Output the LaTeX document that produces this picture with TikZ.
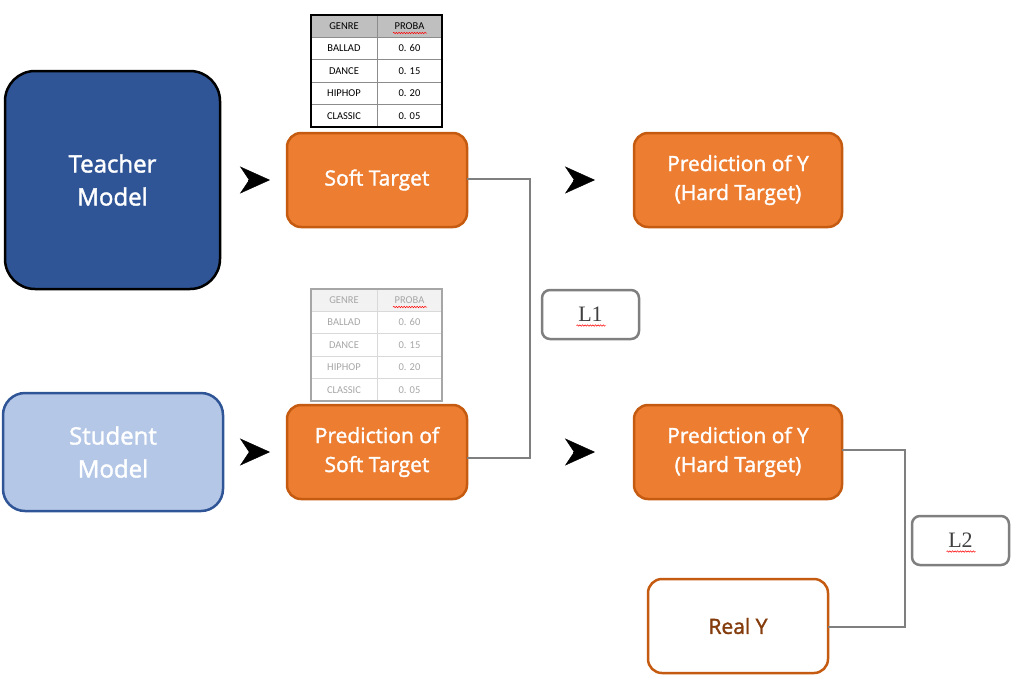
\documentclass[tikz,border=0pt]{standalone}
\usepackage{fontspec}
\setmainfont{Open Sans}
\newfontfamily\boxfont[FakeBold=1.6]{Open Sans}
\newfontfamily\serifL{Liberation Serif}
\newfontfamily\tabfont{Carlito}
\usetikzlibrary{arrows.meta,decorations.pathmorphing,calc}
\definecolor{tblue}{HTML}{2F5597}
\definecolor{lblue}{HTML}{B4C7E7}
\definecolor{orfill}{HTML}{ED7D31}
\definecolor{ordraw}{HTML}{C55A11}
\definecolor{brown}{HTML}{843C0C}
\definecolor{lgray}{HTML}{7F7F7F}
\definecolor{hdrdark}{HTML}{BFBFBF}
\definecolor{hdrlight}{HTML}{F2F2F2}
\definecolor{txtgray}{HTML}{A6A6A6}
\definecolor{gridlight}{HTML}{D9D9D9}
\tikzset{
  bigbox/.style={rounded corners=30pt, line width=2.5pt, outer sep=0pt, align=center,
    text=white, font=\boxfont\fontsize{24}{33}\selectfont},
  orbox/.style={rounded corners=14pt, line width=2.5pt, outer sep=0pt, align=center,
    fill=orfill, draw=ordraw, text=white, minimum width=180pt, minimum height=94pt,
    font=\boxfont\fontsize{21}{29}\selectfont},
  lossbox/.style={rounded corners=8pt, line width=2.5pt, draw=lgray, fill=white, outer sep=0pt,
    minimum width=97pt, minimum height=49pt, text=black!75, font=\serifL\fontsize{22}{26}\selectfont},
  tip/.style={line width=0.4pt, draw=black, fill=black, -{Stealth[length=30pt,width=27pt,inset=9pt]}},
  conn/.style={line width=2.8pt, draw=lgray},
  squiggle/.style={draw=red, line width=0.5pt, decorate,
    decoration={snake, amplitude=0.7pt, segment length=2.6pt}},
  pics/genretab/.style n args={4}{code={
    \fill[#2] (0,0) rectangle (131,22);
    \foreach \yy in {22,44.5,67,89.5} \draw[#3, line width=0.7pt] (0,\yy) -- (131,\yy);
    \draw[#3, line width=0.7pt] (66,0) -- (66,112);
    \draw[#1, line width=1.3pt] (0,0) rectangle (131,112);
    \begin{scope}[every node/.style={text=#4, font=\tabfont\fontsize{10.5}{12}\selectfont}]
      \node (-g) at (33,11) {GENRE};
      \node (-p) at (98.5,11) {PROBA};
      \node (-b) at (33,33.25) {BALLAD};
      \node (-bv) at (98.5,33.25) {0. 60};
      \node (-d) at (33,55.75) {DANCE};
      \node (-dv) at (98.5,55.75) {0. 15};
      \node (-h) at (33,78.25) {HIPHOP};
      \node (-hv) at (98.5,78.25) {0. 20};
      \node (-c) at (33,100.75) {CLASSIC};
      \node (-cv) at (98.5,100.75) {0. 05};
    \end{scope}
    \draw[squiggle] (82,18) -- (116,18);
  }}
}
\begin{document}
\begin{tikzpicture}[x=1pt,y=-1pt]
\useasboundingbox (0,0) rectangle (1015,681);

\node[bigbox, fill=tblue, draw=black, minimum width=215pt, minimum height=218pt] (teacher) at (112.5,180) {Teacher\\Model};
\node[bigbox, rounded corners=22pt, fill=lblue, draw=tblue, minimum width=220pt, minimum height=118pt] (student) at (113,452) {Student\\Model};

\node[orbox] (soft) at (377,180) {Soft Target};
\node[orbox] (psoft) at (377,452) {Prediction of\\Soft Target};
\node[orbox, minimum width=208pt] (hardA) at (738,180) {Prediction of Y\\(Hard Target)};
\node[orbox, minimum width=208pt] (hardB) at (738,452) {Prediction of Y\\(Hard Target)};
\node[orbox, fill=white, text=brown] (realy) at (738,626) {Real Y};

\node[lossbox] (L1) at (590.5,314.5) {L1};
\node[lossbox] (L2) at (960.5,540.5) {L2};
\draw[squiggle] ($(L1.center)+(-14,11)$) -- ($(L1.center)+(15,11)$);
\draw[squiggle] ($(L2.center)+(-14,11)$) -- ($(L2.center)+(15,11)$);

\pic (tabA) at (311,15) {genretab={black}{hdrdark}{black!45}{black}};
\pic (tabB) at (311,289) {genretab={txtgray}{hdrlight}{gridlight}{txtgray}};

\draw[tip, shorten <=28pt, shorten >=17pt] (teacher) -- (soft);
\draw[tip, shorten <=28pt, shorten >=17pt] (student.east |- psoft.west) -- (psoft.west);
\draw[tip, shorten <=106pt, shorten >=39pt] (soft.east) -- (hardA.west);
\draw[tip, shorten <=106pt, shorten >=39pt] (psoft.east) -- (hardB.west);

\draw[conn] ([yshift=1pt]soft.east) -- ++(63,0) |- ([yshift=-6pt]psoft.east);
\draw[conn] ([yshift=2pt]hardB.east) -- ++(63,0) |- ([yshift=-1pt]realy.east);
\end{tikzpicture}
\end{document}
